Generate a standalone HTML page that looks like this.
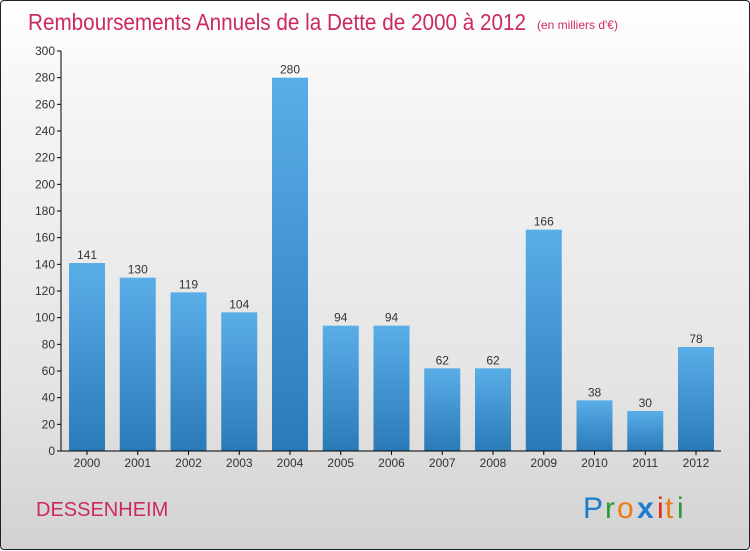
<!DOCTYPE html>
<html><head><meta charset="utf-8"><style>
body{margin:0;width:750px;height:550px;overflow:hidden;font-family:"Liberation Sans",sans-serif}
#frame{position:absolute;left:0;top:0;width:748px;height:548px;border:1px solid #222;border-radius:4px;background:linear-gradient(#ffffff,#f4f4f4 20%,#e4e4e4 70%,#d2d2d2)}
</style></head><body>
<div id="frame">
<svg id="c" width="750" height="550" style="position:absolute;left:0;top:0">
<defs><linearGradient id="bg" x1="0" y1="0" x2="0" y2="1"><stop offset="0" stop-color="#5aaee8"/><stop offset="1" stop-color="#2a7ab8"/></linearGradient></defs>
<text x="27" y="29" font-size="23" fill="#cc2a5e" textLength="498" lengthAdjust="spacingAndGlyphs">Remboursements Annuels de la Dette de 2000 à 2012</text>
<text x="536" y="28" font-size="12" fill="#cc2a5e">(en milliers d'€)</text>
<text x="35" y="515" font-size="20" fill="#cc2a5e">DESSENHEIM</text>
<g font-size="30" font-family="Liberation Sans,sans-serif">
<text x="582" y="517" fill="#1d7bd0">P</text><text x="604" y="517" fill="#2a9a3a">r</text><text x="616" y="517" fill="#f07a10">o</text><text x="636" y="517" fill="#1d7bd0" font-weight="bold">x</text><text x="656" y="517" fill="#e02a1a">i</text><text x="664" y="517" fill="#f07a10">t</text><text x="676" y="517" fill="#2a9a3a">i</text></g>
<g id="plot"></g>
</svg></div>
<script>
const categories=["2000","2001","2002","2003","2004","2005","2006","2007","2008","2009","2010","2011","2012"];
const values=[141,130,119,104,280,94,94,62,62,166,38,30,78];
const ticks=[0,20,40,60,80,100,120,140,160,180,200,220,240,260,280,300];
const NS="http://www.w3.org/2000/svg";
const g=document.getElementById('plot');
const y=v=>450-v*400/300;
const x=i=>86+i*50.75;
function mk(t,a,txt){const e=document.createElementNS(NS,t);for(const k in a)e.setAttribute(k,a[k]);if(txt!==undefined)e.textContent=txt;g.appendChild(e);return e;}
ticks.forEach(t=>{
const l=mk('line',{x1:56,x2:60,y1:y(t),y2:y(t),stroke:'#000'});


const tx=mk('text',{x:54,y:y(t)+4,'font-size':12,'text-anchor':'end',fill:'#333'},t);


});
values.forEach((v,i)=>{
const r=mk('rect',{x:x(i)-18,y:y(v),width:36,height:450-y(v),fill:'url(#bg)'});


const lb=mk('text',{x:x(i),y:y(v)-4,'font-size':12,'text-anchor':'middle',fill:'#333'},v);


const c=mk('text',{x:x(i),y:466,'font-size':12,'text-anchor':'middle',fill:'#333'},categories[i]);


const tk=mk('line',{x1:x(i),x2:x(i),y1:450,y2:454,stroke:'#000'});


});
const ya=mk('line',{x1:60,x2:60,y1:y(300),y2:450,stroke:'#000'});


const xa=mk('line',{x1:60,x2:720,y1:450,y2:450,stroke:'#000'});


</script></body></html>
